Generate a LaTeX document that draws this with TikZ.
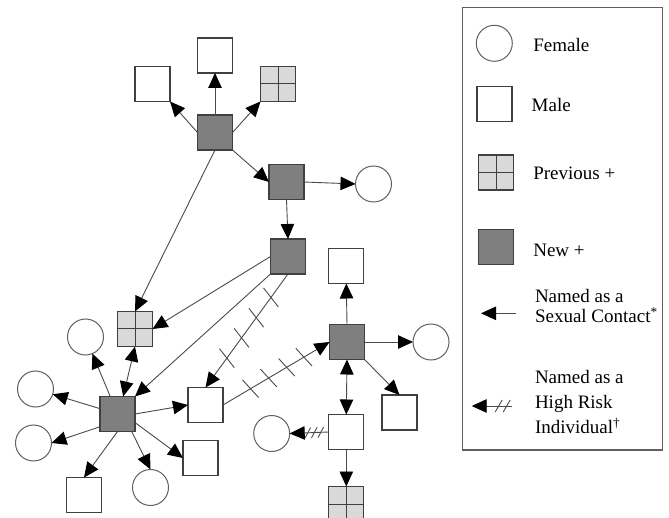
\documentclass[tikz,border=0pt]{standalone}
\usepackage{fontspec}
\setmainfont{Liberation Serif}
\usetikzlibrary{arrows.meta,decorations.markings}
\definecolor{newpos}{HTML}{7F7F7F}
\definecolor{prevpos}{HTML}{D9D9D9}
\definecolor{edgecol}{HTML}{404040}
\definecolor{circcol}{HTML}{606060}
\definecolor{linecol}{HTML}{4A4A4A}
\newcommand\hatchmark[2]{\draw[-, linecol, line width=0.9pt] (-#1:#2) -- (180-#1:#2);}
\tikzset{bigtri/.tip={Triangle[length=15pt,width=13.5pt,color=black]}}
\begin{document}
\begin{tikzpicture}[x=1pt,y=-1pt,
  male/.style={rectangle, draw=edgecol, line width=1.1pt, fill=white, minimum size=35pt, inner sep=0pt, outer sep=0pt},
  female/.style={circle, draw=circcol, line width=1pt, fill=white, minimum size=36pt, inner sep=0pt, outer sep=0pt},
  newp/.style={male, fill=newpos},
  prevp/.style={male, fill=prevpos, path picture={\draw[edgecol, line width=1pt] (path picture bounding box.north) -- (path picture bounding box.south) (path picture bounding box.west) -- (path picture bounding box.east);}},
  link/.style={draw=linecol, line width=0.9pt, -{bigtri}},
  blink/.style={draw=linecol, line width=0.9pt, {bigtri}-{bigtri}},
  lab/.style={anchor=base west, inner sep=0pt, outer sep=0pt, font=\fontsize{19}{22}\selectfont},
  hatchCF/.style={postaction={decorate}, decoration={markings,
     mark=at position 29pt with {\hatchmark{74}{12}},
     mark=at position 54pt with {\hatchmark{74}{12}},
     mark=at position 79pt with {\hatchmark{74}{12}},
     mark=at position 104pt with {\hatchmark{74}{12}}}},
  hatchFD/.style={postaction={decorate}, decoration={markings,
     mark=at position 32pt with {\hatchmark{102}{12}},
     mark=at position 53pt with {\hatchmark{102}{12}},
     mark=at position 74pt with {\hatchmark{102}{12}},
     mark=at position 94pt with {\hatchmark{102}{12}}}},
  hatchG/.style={postaction={decorate}, decoration={markings,
     mark=at position 8pt with {\hatchmark{60}{6}},
     mark=at position 14.5pt with {\hatchmark{60}{6}},
     mark=at position 21pt with {\hatchmark{60}{6}}}},
  hatchL/.style={postaction={decorate}, decoration={markings,
     mark=at position 5pt with {\hatchmark{60}{7}},
     mark=at position 13pt with {\hatchmark{60}{7}}}}
]
\useasboundingbox (0,0) rectangle (669,518);

% network nodes
\node[newp]   (A)  at (215,132.5) {};
\node[male]   (TL) at (152.5,84) {};
\node[male]   (TM) at (215,55.5) {};
\node[prevp]  (TR) at (278,84) {};
\node[newp]   (B)  at (286.5,182) {};
\node[female] (FB) at (373.5,184) {};
\node[newp]   (C)  at (288,256.5) {};
\node[male]   (DT) at (346.3,266) {};
\node[prevp]  (P1) at (135,329) {};
\node[newp]   (D)  at (347,342) {};
\node[female] (FD) at (431,342) {};
\node[newp]   (E)  at (117.5,414) {};
\node[male]   (F)  at (205.5,405) {};
\node[female] (f1) at (85.5,337) {};
\node[female] (f2) at (35.5,389) {};
\node[female] (f3) at (33.5,443) {};
\node[male]   (m1) at (84,495) {};
\node[female] (f4) at (150.5,487.5) {};
\node[male]   (m2) at (200.5,458) {};
\node[male]   (G)  at (346.3,432) {};
\node[female] (FG) at (271.7,433.5) {};
\node[male]   (MD) at (399.5,412.5) {};
\node[prevp]  (P2) at (346.3,504) {};

% connectors
\draw[link] (A.west) -- (TL.south east);
\draw[link] (A.north) -- (TM.south);
\draw[link] (A.east) -- (TR.south west);
\draw[link] (A.south east) -- (B.west);
\draw[link] (A.south) -- (P1.north);
\draw[link] (B.east) -- (FB.west);
\draw[link] (B.south) -- (C.north);
\draw[link] (C.west) -- (P1.east);
\draw[link] (C.south west) -- (E.north east);
\draw[link,hatchCF] (C.south) -- (F.north);
\draw[link,hatchFD] (F.east) -- (D.west);
\draw[link] (D.north) -- (DT.south);
\draw[link] (D.east) -- (FD.west);
\draw[link] (D.south east) -- (MD.north);
\draw[blink] (D.south) -- (G.north);
\draw[link,hatchG] (G.west) -- (FG.east);
\draw[link] (G.south) -- (P2.north);
\draw[blink] (P1.south) -- (E.72);
\draw[link] (E) -- (f1);
\draw[link] (E) -- (f2);
\draw[link] (E.216) -- (f3.east);
\draw[link] (E.south) -- (m1.north);
\draw[link] (E.-51) -- (f4.north);
\draw[link] (E.-26) -- (m2.west);
\draw[link] (E.east) -- (F.west);

% legend
\node[draw=circcol, line width=1.1pt, minimum width=199.8pt, minimum height=442.7pt, inner sep=0pt] (legend) at (562.6,228.65) {};
\node[female] (lgF) at (494.3,43.3) {};
\node[male]   (lgM) at (494.5,103.7) {};
\node[prevp]  (lgP) at (496.3,172.5) {};
\node[newp]   (lgN) at (496.3,247.2) {};
\node[lab] (tF)  at (533.3,51.7) {Female};
\node[lab] (tM)  at (531.7,111.7) {Male};
\node[lab] (tP)  at (533.3,180) {Previous +};
\node[lab] (tN)  at (533.3,256.7) {New +};
\node[lab] (tS1) at (535,302.7) {Named as a};
\node[lab] (tS2) at (535,322.7) {Sexual Contact\textsuperscript{*}};
\node[lab] (tH1) at (535,383.3) {Named as a};
\node[lab] (tH2) at (535,408.3) {High Risk};
\node[lab] (tH3) at (535,433.3) {Individual\textsuperscript{\dag}};
\coordinate (lgA1) at (516,313.3);
\coordinate (lgA2) at (481,313.3);
\draw[link] (lgA1) -- (lgA2);
\coordinate (lgB1) at (511.7,406);
\coordinate (lgB2) at (471.7,406);
\draw[link,hatchL] (lgB1) -- (lgB2);
\end{tikzpicture}
\end{document}
